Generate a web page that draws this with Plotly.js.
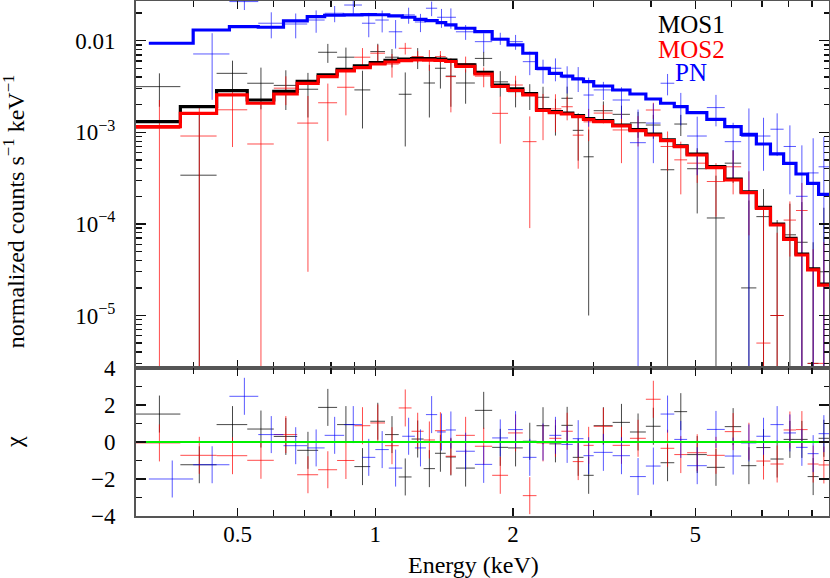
<!DOCTYPE html>
<html>
<head>
<meta charset="utf-8">
<script src="https://cdn.plot.ly/plotly-3.0.1.min.js"></script>
<style>html,body{margin:0;padding:0;background:#fff}#chart{width:830px;height:578px}</style>
</head>
<body>
<div id="chart"></div>
<script>
// ---- bin edges (keV) ----
const mosEdges = [0.3,0.375,0.45,0.525,0.6,0.675,0.75,0.825,0.9,0.975,1.05,1.125,1.2,1.275,1.35,1.425,1.5,1.65,1.8,1.95,2.1,2.25,2.4,2.55,2.7,2.85,3.0,3.3,3.6,3.9,4.2,4.5,4.8,5.3,5.8,6.3,6.8,7.3,7.8,8.3,8.8,9.3,9.8];
const pnEdges  = [0.32,0.4,0.48,0.555,0.63,0.71,0.775,0.855,0.935,1.0,1.07,1.145,1.22,1.29,1.365,1.425,1.5,1.65,1.8,1.95,2.1,2.25,2.4,2.55,2.7,2.85,3.0,3.3,3.6,3.9,4.2,4.5,4.8,5.3,5.8,6.3,6.8,7.3,7.8,8.3,8.8,9.3,9.8];

// ---- folded models (counts s^-1 keV^-1) ----
const mos1Model = [1.305e-3,1.904e-3,2.844e-3,2.252e-3,2.802e-3,3.603e-3,4.222e-3,4.873e-3,5.295e-3,5.751e-3,6.08e-3,6.28e-3,6.39e-3,6.36e-3,6.31e-3,6.15e-3,5.43e-3,4.50e-3,3.28e-3,2.97e-3,2.65e-3,1.773e-3,1.678e-3,1.624e-3,1.517e-3,1.413e-3,1.338e-3,1.201e-3,1.067e-3,9.57e-4,8.29e-4,7.13e-4,5.79e-4,4.21e-4,3.09e-4,2.24e-4,1.52e-4,9.97e-5,6.96e-5,4.69e-5,3.22e-5,2.20e-5];
const mos2Model = [1.151e-3,1.612e-3,2.554e-3,2.073e-3,2.618e-3,3.426e-3,4.046e-3,4.669e-3,5.072e-3,5.566e-3,5.853e-3,6.048e-3,6.155e-3,6.124e-3,6.078e-3,5.927e-3,5.228e-3,4.329e-3,3.162e-3,2.859e-3,2.554e-3,1.730e-3,1.637e-3,1.584e-3,1.480e-3,1.379e-3,1.305e-3,1.172e-3,1.041e-3,9.34e-4,8.09e-4,6.96e-4,5.65e-4,4.107e-4,3.014e-4,2.19e-4,1.48e-4,9.73e-5,6.79e-5,4.576e-5,3.14e-5,2.15e-5];
const pnModel   = [9.367e-3,1.308e-2,1.422e-2,1.401e-2,1.641e-2,1.828e-2,1.894e-2,1.908e-2,1.922e-2,1.918e-2,1.861e-2,1.801e-2,1.712e-2,1.653e-2,1.572e-2,1.484e-2,1.366e-2,1.254e-2,1.036e-2,8.977e-3,7.286e-3,4.996e-3,4.405e-3,4.117e-3,3.818e-3,3.567e-3,3.202e-3,2.895e-3,2.618e-3,2.309e-3,2.073e-3,1.904e-3,1.637e-3,1.386e-3,1.151e-3,9.51e-4,7.45e-4,5.80e-4,4.587e-4,3.505e-4,2.774e-4,2.103e-4];

// ---- data points and 1-sigma errors ----
const mos1Rate = [3.15e-3,3.4e-4,4.4e-3,3.43e-3,3.25e-3,2.95e-3,7.47e-3,6.6e-3,2.9e-3,7.6e-3,6.6e-3,2.6e-3,6.6e-3,3.45e-3,5.0e-3,4.1e-3,3.45e-3,6.4e-3,3.55e-3,2.77e-3,2.55e-3,2.41e-3,1.62e-3,2.35e-3,1.05e-3,5.4e-4,1.72e-3,1.57e-3,1.27e-3,1.2e-3,3.9e-4,1.23e-3,4.0e-4,1.16e-4,4.6e-4,2.0e-5,1.2e-4,1.0e-5,7.6e-5,6.3e-5,3e-6,3.0e-5];
const mos1Err  = [1.25e-3,1.3e-3,1.65e-3,1.65e-3,1.5e-3,1.5e-3,1.75e-3,1.8e-3,1.8e-3,1.65e-3,1.5e-3,1.9e-3,1.7e-3,2.0e-3,2.0e-3,2.2e-3,1.4e-3,1.15e-3,1.1e-3,0.9e-3,0.8e-3,0.73e-3,0.7e-3,0.8e-3,0.56e-3,0.53e-3,0.45e-3,0.38e-3,0.4e-3,0.35e-3,4e-4,3.2e-4,2.7e-4,2.2e-4,1.8e-4,1.6e-4,1.2e-4,1.0e-4,9e-5,1.1e-4,6e-5,1.2e-4];
const mos2Rate = [1.1e-3,9.1e-4,1.76e-3,7.45e-4,3.03e-3,1.26e-3,2.1e-3,3.1e-3,6.6e-3,7.3e-3,5.55e-3,8.26e-3,6.7e-3,6.3e-3,6.7e-3,4.05e-3,5.6e-3,4.1e-3,1.61e-3,3.28e-3,7.9e-4,1.72e-3,1.8e-3,1.9e-3,9.3e-4,1.3e-3,1.62e-3,1.06e-3,1.1e-3,1.75e-3,7.0e-4,5.0e-4,4.6e-4,2.9e-4,4.2e-4,2.25e-4,5e-6,1.0e-5,1.1e-4,1.4e-4,3e-6,3e-6];
const mos2Err  = [1.15e-3,1.0e-3,1.07e-3,1.33e-3,1.05e-3,1.23e-3,1.3e-3,1.57e-3,1.7e-3,1.7e-3,1.6e-3,1.2e-3,1.0e-3,1.6e-3,1.0e-3,2.4e-3,1.1e-3,1.0e-3,0.86e-3,0.86e-3,0.7e-3,0.9e-3,0.8e-3,0.55e-3,0.53e-3,0.5e-3,0.37e-3,0.6e-3,0.4e-3,0.35e-3,3.2e-4,2.9e-4,1.8e-4,1.7e-4,2.1e-4,1.5e-4,1.4e-4,7e-5,6.6e-5,1.4e-4,5e-5,6e-5];
const pnRate   = [null,7.16e-3,2.67e-2,1.55e-2,1.52e-2,1.68e-2,1.99e-2,2.45e-2,1.55e-2,1.68e-2,1.25e-2,1.91e-2,1.6e-2,2.26e-2,1.8e-2,1.8e-2,1.25e-2,9.75e-3,1.06e-2,9.75e-3,5.9e-3,4.8e-3,5.0e-3,3.95e-3,3.95e-3,2.55e-3,2.9e-3,2.25e-3,7.7e-4,1.26e-3,3.43e-3,1.94e-3,9.1e-4,1.86e-3,7.9e-4,9.0e-4,9.1e-4,1.08e-3,7.0e-4,2.0e-4,3.6e-4,4.2e-4];
const pnErr    = [null,4.9e-3,5.1e-3,4.9e-3,4.6e-3,4.6e-3,4.0e-3,5.7e-3,4.6e-3,4.5e-3,4.3e-3,3.8e-3,3.6e-3,4.1e-3,4.2e-3,4.5e-3,2.3e-3,2.3e-3,1.6e-3,1.8e-3,1.7e-3,1.4e-3,1.4e-3,1.3e-3,1.2e-3,1.4e-3,0.65e-3,0.85e-3,1.0e-3,0.8e-3,0.9e-3,0.75e-3,0.57e-3,0.7e-3,0.48e-3,9.2e-4,0.53e-3,0.53e-3,0.49e-3,0.52e-3,0.5e-3,0.47e-3];

// ---- residuals (chi) ----
const mos1Chi = [1.51,-1.23,0.94,0.70,0.30,-0.45,1.87,0.94,-1.33,1.12,0.40,-1.89,0.16,-1.44,-0.61,-0.81,-1.41,1.71,-0.29,-0.32,0.04,0.88,-0.10,0.90,-0.83,-1.80,0.88,1.06,0.54,0.85,-1.12,1.64,-0.68,-1.37,0.83,-1.28,-0.30,-0.92,0.14,0.14,-1.87,0.20];
const mos2Chi = [-0.05,-0.72,-0.74,-0.99,0.40,-1.77,-1.50,-1.00,0.88,1.03,-0.20,1.84,0.58,0.11,0.61,-0.77,0.36,-0.23,-1.80,0.49,-2.90,-0.05,0.20,0.58,-1.06,-0.18,0.85,-0.18,0.20,2.31,-0.34,-0.68,-0.58,-0.72,0.56,0.04,-1.03,-1.19,0.65,0.67,-1.19,-1.24];
const pnChi   = [-2.00,-1.23,2.47,0.40,-0.20,-0.32,0.36,0.94,-0.83,-0.41,-1.41,0.31,-0.32,1.48,0.54,0.65,-0.50,-1.21,0.22,0.67,-0.83,0.00,0.36,-0.13,0.18,-0.74,-0.56,-0.74,-1.87,-1.30,1.51,0.14,-1.28,0.68,-0.76,-0.05,0.31,0.94,0.49,-0.29,-0.63,0.45];

const labels = ['MOS1','MOS2','PN'];
const xTickVals = [0.5,1,2,5];
const xTickText = ['0.5','1','2','5'];

// ---------------------------------------------------------------
const FONT = 'Liberation Serif';
function centers(e){ return e.slice(0,-1).map((v,i)=>(v+e[i+1])/2); }
function halves(e){ return e.slice(0,-1).map((v,i)=>(e[i+1]-v)/2); }

const sets = [
  {edges:mosEdges, model:mos1Model, rate:mos1Rate, err:mos1Err, chi:mos1Chi, line:'#000000', bar:'rgba(0,0,0,0.72)'},
  {edges:mosEdges, model:mos2Model, rate:mos2Rate, err:mos2Err, chi:mos2Chi, line:'#ff0000', bar:'rgba(255,0,0,0.7)'},
  {edges:pnEdges,  model:pnModel,   rate:pnRate,   err:pnErr,   chi:pnChi,   line:'#0000ff', bar:'rgba(0,0,255,0.65)'}
];

const traces = [];
sets.forEach(s=>{
  const xc = centers(s.edges), hw = halves(s.edges);
  traces.push({x:xc, y:s.rate, xaxis:'x', yaxis:'y', type:'scatter', mode:'markers',
    marker:{size:1, color:'rgba(0,0,0,0)'}, hoverinfo:'skip',
    error_x:{type:'data', symmetric:false, array:hw, arrayminus:hw, color:s.bar, thickness:1, width:0},
    error_y:{type:'data', symmetric:true, array:s.err, color:s.bar, thickness:1, width:0}});
  traces.push({x:xc, y:s.chi, xaxis:'x2', yaxis:'y2', type:'scatter', mode:'markers',
    marker:{size:1, color:'rgba(0,0,0,0)'}, hoverinfo:'skip',
    error_x:{type:'data', symmetric:false, array:hw, arrayminus:hw, color:s.bar, thickness:1, width:0},
    error_y:{type:'constant', value:1, color:s.bar, thickness:1, width:0}});
});
sets.forEach(s=>{
  traces.push({x:s.edges, y:s.model.concat([s.model[s.model.length-1]]), xaxis:'x', yaxis:'y',
    type:'scatter', mode:'lines', line:{shape:'hv', color:s.line, width:3.2}, hoverinfo:'skip'});
});
traces.push({x:[mosEdges[0], mosEdges[mosEdges.length-1]], y:[0,0], xaxis:'x2', yaxis:'y2',
  type:'scatter', mode:'lines', line:{color:'#00f000', width:2}, hoverinfo:'skip'});

const xr = [Math.log10(0.3), Math.log10(9.8)];
const minorX = [0.4,0.6,0.7,0.8,0.9,3,4,6,7,8,9];
const axisCommon = {showline:true, linecolor:'#555', linewidth:2, mirror:'ticks', ticks:'inside',
  tickcolor:'#111', tickwidth:1.3, showgrid:false, zeroline:false};
const minorY = [];
[1e-6,1e-5,1e-4,1e-3,1e-2].forEach(d=>{ for(let k=2;k<=9;k++) minorY.push(d*k); });

const layout = {
  width:830, height:578,
  margin:{l:136, r:1, t:1, b:62},
  paper_bgcolor:'#fff', plot_bgcolor:'#fff',
  showlegend:false,
  font:{family:FONT, size:23, color:'#000'},
  xaxis:Object.assign({}, axisCommon, {type:'log', range:xr, domain:[0,1], anchor:'y',
    tickvals:xTickVals, showticklabels:false, ticklen:8,
    minor:{tickvals:minorX, ticklen:6, tickwidth:1.3, tickcolor:'#111', ticks:'inside'}}),
  xaxis2:Object.assign({}, axisCommon, {type:'log', range:xr, domain:[0,1], anchor:'y2', matches:'x',
    tickvals:xTickVals, ticktext:xTickText, ticklen:8, ticklabelstandoff:-4,
    tickfont:{family:FONT, size:23, color:'#000'},
    minor:{tickvals:minorX, ticklen:6, tickwidth:1.3, tickcolor:'#111', ticks:'inside'}}),
  yaxis:Object.assign({}, axisCommon, {type:'log', domain:[0.2874,1], anchor:'x',
    range:[-5.573, -1.567],
    tickvals:[1e-5,1e-4,1e-3,1e-2], ticktext:['10<sup>−5</sup>','10<sup>−4</sup>','10<sup>−3</sup>','0.01'],
    ticklen:10, ticklabelstandoff:14, tickfont:{family:FONT, size:23, color:'#000'},
    minor:{tickvals:minorY, ticklen:5.5, tickwidth:1.3, tickcolor:'#111', ticks:'inside'}}),
  yaxis2:Object.assign({}, axisCommon, {domain:[0,0.2874], anchor:'x2', range:[-4,4],
    tickvals:[-4,-2,0,2,4], ticktext:['−4','−2','0','2','4'],
    ticklen:10, ticklabelstandoff:14, tickfont:{family:FONT, size:23, color:'#000'},
    minor:{tickvals:[-3,-1,1,3], ticklen:5.5, tickwidth:1.3, tickcolor:'#111', ticks:'inside'}}),
  annotations:[
    {text:labels[0], xref:'paper', yref:'paper', x:0.8009, y:0.9553, xanchor:'center', yanchor:'middle', showarrow:false, font:{family:FONT, size:25, color:'#000'}},
    {text:labels[1], xref:'paper', yref:'paper', x:0.8023, y:0.9049, xanchor:'center', yanchor:'middle', showarrow:false, font:{family:FONT, size:25, color:'#ff0000'}},
    {text:labels[2], xref:'paper', yref:'paper', x:0.8009, y:0.8621, xanchor:'center', yanchor:'middle', showarrow:false, font:{family:FONT, size:25, color:'#0000ff'}},
    {text:'normalized counts s<sup>−1</sup> keV<sup>−1</sup>', xref:'paper', yref:'paper', x:-0.176, y:0.592, xanchor:'center', yanchor:'middle', textangle:-90, showarrow:false, font:{family:FONT, size:24, color:'#000'}},
    {text:'χ', xref:'paper', yref:'paper', x:-0.176, y:0.1437, xanchor:'center', yanchor:'middle', textangle:-90, showarrow:false, font:{family:FONT, size:24, color:'#000'}},
    {text:'Energy (keV)', xref:'paper', yref:'paper', x:0.4863, y:-0.0951, xanchor:'center', yanchor:'middle', showarrow:false, font:{family:FONT, size:24, color:'#000'}}
  ]
};

Plotly.newPlot('chart', traces, layout, {staticPlot:true, displayModeBar:false});
</script>
</body>
</html>
